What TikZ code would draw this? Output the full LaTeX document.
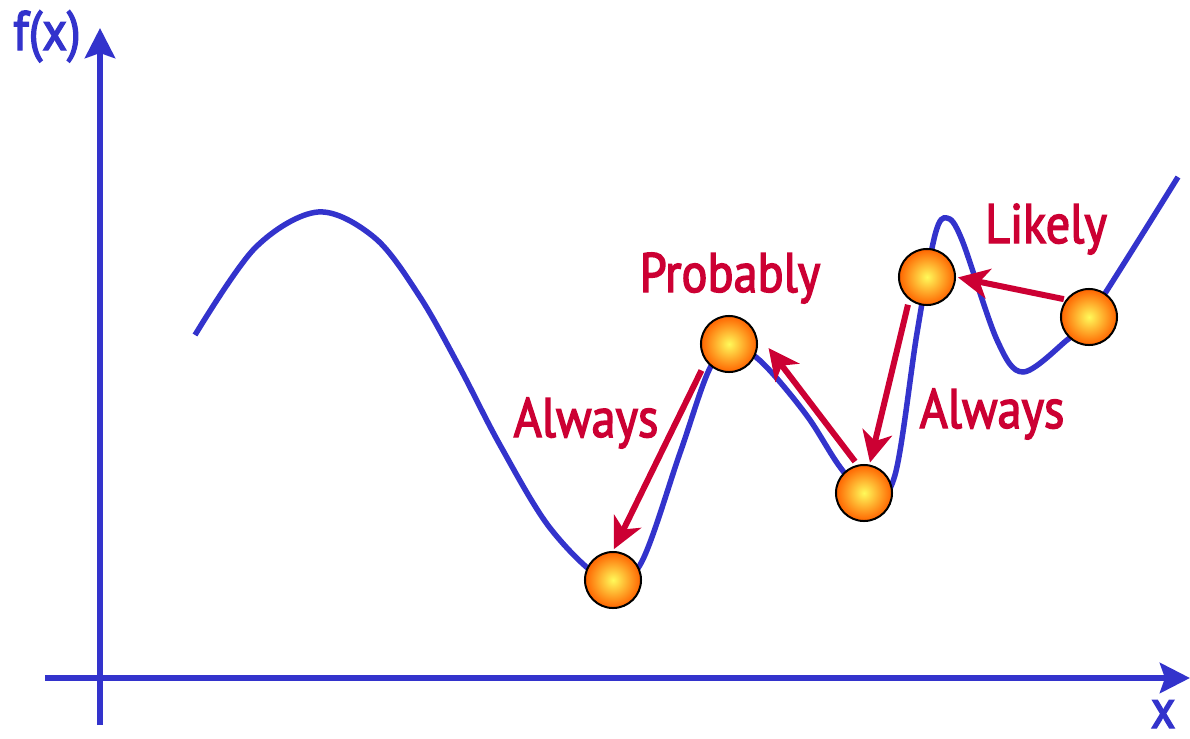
\documentclass[tikz,border=0pt]{standalone}
\usepackage{fontspec}
\newfontfamily\lblfont{PT Sans}[FakeStretch=0.87, FakeBold=2.5]
\usepackage{tikz}
\usetikzlibrary{arrows.meta,shadings}

\definecolor{axisblue}{HTML}{3333CC}
\definecolor{movered}{HTML}{CC0033}
\definecolor{ballin}{RGB}{255,250,90}
\definecolor{ballout}{RGB}{255,100,0}

\begin{document}
\begin{tikzpicture}[
    x=0.01cm, y=-0.01cm,
    axis/.style={-{Stealth[length=0.3cm, width=0.3cm, inset=0.05cm]}, line width=0.06cm, axisblue},
    curve/.style={line width=0.055cm, axisblue},
    move/.style={-{Stealth[length=0.31cm, width=0.3cm, inset=0.09cm]}, line width=0.06cm, movered},
    ball/.style={circle, draw=black, line width=0.02cm, minimum size=0.56cm, inner sep=0pt,
                 inner color=ballin, outer color=ballout},
    lbl/.style={font=\lblfont\fontsize{15.8}{19}\selectfont, movered},
    axlbl/.style={font=\lblfont\fontsize{15.8}{19}\selectfont, axisblue}
]
\useasboundingbox (0,0) rectangle (1190,739);

% Axes
\draw[axis] (100,725) -- (100,28);
\draw[axis] (45,678) -- (1190,678);
\node[axlbl, anchor=base] (fx) at (47,50) {f(x)};
\node[axlbl, anchor=base east] (xl) at (1188,728) {x};

% Function
\draw[curve] plot[smooth, tension=0.55] coordinates {
    (195,335) (255,248) (318,212) (375,238) (420,297) (460,368)
    (500,445) (550,528) (605,580) (640,565) (680,453) (710,368)
    (735,345) (757,358) (780,382) (810,420) (840,467) (870,500) (895,475)
    (917,333) (935,235) (947,218) (962,240) (997,340) (1023,372)
    (1067,340) (1089,318) (1178,177)};

% Balls
\node[ball] (b1) at (613,580) {};
\node[ball] (b2) at (729,344) {};
\node[ball] (b3) at (864,493) {};
\node[ball] (b4) at (927,277) {};
\node[ball] (b5) at (1089,317) {};

% Moves
\draw[move, shorten <=0.1cm, shorten >=0.02cm] (b2.217) -- (b1.north);
\draw[move, shorten <=0.04cm, shorten >=0.27cm] (b3.103) -- (b2.37);
\draw[move, shorten <=0.05cm, shorten >=0.02cm] (b4.232) -- (b3.79);
\draw[move, shorten <=0.02cm, shorten >=0.02cm] (b5.143) -- (b4.east);

% Labels
\node[lbl, anchor=base] (alw1) at (586,437) {Always};
\node[lbl, anchor=base] (prob) at (730,292) {Probably};
\node[lbl, anchor=base] (alw2) at (992,428) {Always};
\node[lbl, anchor=base] (lik) at (1046,243) {Likely};

\end{tikzpicture}
\end{document}
